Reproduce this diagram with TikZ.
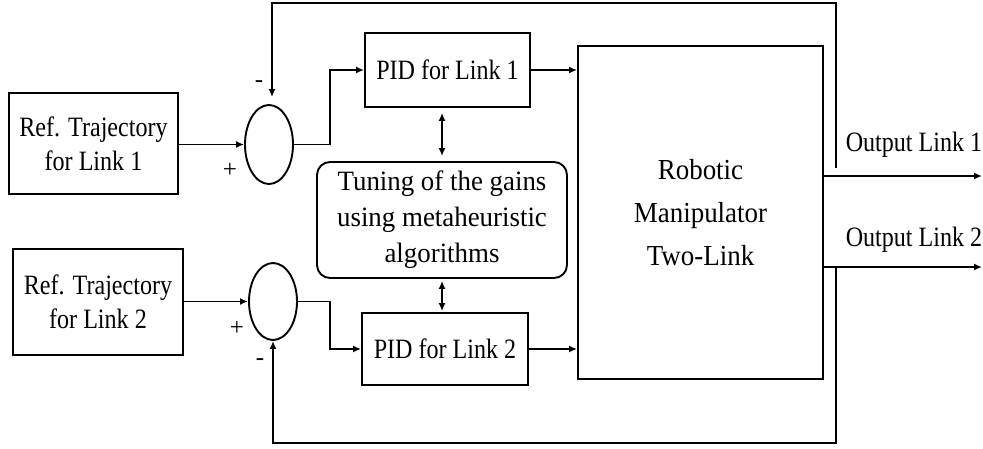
\documentclass[tikz,border=0pt]{standalone}
\usepackage{fontspec}
\setmainfont{Liberation Serif}
\newfontfamily\narrowserif[FakeStretch=0.86]{Liberation Serif}
\newfontfamily\tuneserif[FakeStretch=0.96]{Liberation Serif}
\newfontfamily\robotserif[FakeStretch=0.93]{Liberation Serif}
\usetikzlibrary{arrows.meta,shapes.geometric,calc}
\begin{document}
\begin{tikzpicture}[x=1pt,y=-1pt,
  line width=1.9pt,
  >={Latex[length=8pt,width=7pt]},
  blockbox/.style={draw,rectangle,inner sep=0pt,align=center,
    font=\narrowserif\fontsize{28}{34}\selectfont},
  sumnode/.style={draw,ellipse,inner sep=0pt,minimum width=48pt},
  tunebox/.style={draw,rectangle,rounded corners=13pt,inner sep=0pt,align=center,
    font=\tuneserif\fontsize{28}{36}\selectfont},
  plantbox/.style={draw,rectangle,inner sep=0pt,align=center,
    font=\robotserif\fontsize{29}{43}\selectfont},
  outlabel/.style={inner sep=0pt,font=\narrowserif\fontsize{28}{34}\selectfont},
  signlabel/.style={inner sep=0pt,font=\fontsize{25}{25}\selectfont}]
\useasboundingbox (0,0) rectangle (983,448);

% reference inputs
\node[blockbox,minimum width=169pt,minimum height=101pt] (ref1) at (93.5,143.5)
  {Ref. Trajectory\\for Link 1};
\node[blockbox,minimum width=170pt,minimum height=106pt] (ref2) at (98,302)
  {Ref. Trajectory\\for Link 2};

% summing junctions
\node[sumnode,minimum height=79pt] (sum1) at (269,144.5) {};
\node[sumnode,minimum height=77pt] (sum2) at (273,301.5) {};

% controllers
\node[blockbox,minimum width=165pt,minimum height=74pt] (pid1) at (447.5,70) {PID for Link 1};
\node[blockbox,minimum width=166pt,minimum height=72pt] (pid2) at (445,349) {PID for Link 2};

% gain tuning
\node[tunebox,minimum width=250pt,minimum height=116pt] (tune) at (442,220)
  {Tuning of the gains\\using metaheuristic\\algorithms};

% plant
\node[plantbox,minimum width=245pt,minimum height=333pt] (robot) at (700.5,212.5)
  {Robotic\\Manipulator\\Two-Link};

% signs
\node[signlabel] (m1) at (259,84) {-};
\node[signlabel] (p1) at (230,170) {+};
\node[signlabel] (p2) at (237,328) {+};
\node[signlabel] (m2) at (260,362) {-};

% output labels
\node[outlabel] (lo1) at (914,145) {Output Link 1};
\node[outlabel] (lo2) at (914,240) {Output Link 2};

% routing points
\coordinate (o1) at (982,176);
\coordinate (o2) at (982,267);
\coordinate (fb1) at (836,168);
\coordinate (fb2) at (836,267);
\coordinate (top) at (836,3);
\coordinate (bot) at (836,443);

% forward paths
\draw[->] (ref1.east |- sum1.west) -- (sum1.west);
\draw[->] (ref2.east |- sum2.west) -- (sum2.west);
\draw[->] (sum1.east) -- ++(36,0) |- (pid1.west);
\draw[->] (sum2.east) -- ++(32,0) |- (pid2.west);
\draw[->] (pid1.east) -- (pid1.east -| robot.west);
\draw[->] (pid2.east) -- (pid2.east -| robot.west);
\draw[<->,shorten <=5pt,shorten >=5pt] (pid1.south -| tune.north) -- (tune.north);
\draw[<->,shorten <=2pt,shorten >=1pt] (tune.south) -- (pid2.north -| tune.south);

% outputs
\draw[->] (robot.east |- o1) -- (o1);
\draw[->] (robot.east |- o2) -- (o2);

% feedback loops
\draw[->,shorten >=7pt] (fb1) -- (top) -- (top -| {$(sum1.north)+(3,0)$}) -- ($(sum1.north)+(3,0)$);
\draw[->] (fb2) -- (bot) -| (sum2.south);
\end{tikzpicture}
\end{document}
